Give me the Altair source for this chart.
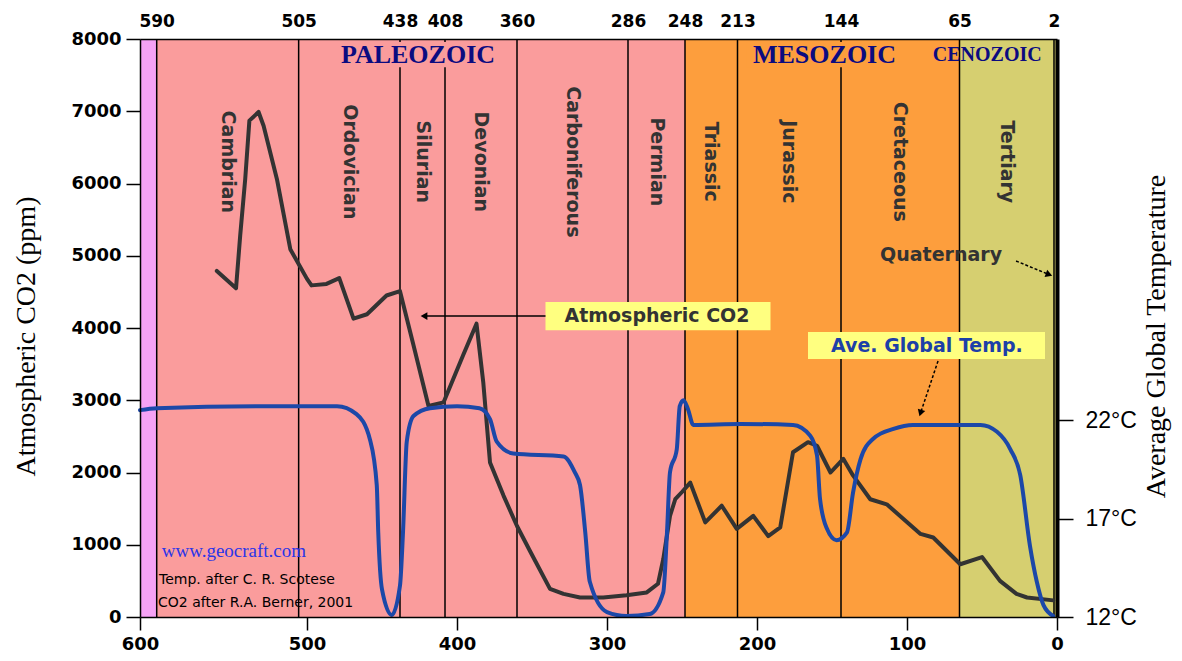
import altair as alt
import pandas as pd

# ---------------- data ----------------
boundary_ma = [590, 505, 438, 408, 360, 286, 248, 213, 144, 65, 2]
period_names = ["Cambrian", "Ordovician", "Silurian", "Devonian", "Carboniferous",
                "Permian", "Triassic", "Jurassic", "Cretaceous", "Tertiary"]
period_label_ppm = 6300

band_names = ["Precambrian", "Paleozoic", "Mesozoic", "Cenozoic"]
band_from = [600, 590, 248, 65]
band_to = [590, 248, 65, 0]
band_colors = ["#F5A2F5", "#FA9C9C", "#FD9E3D", "#D6CF70"]

era_names = ["PALEOZOIC", "MESOZOIC", "CENOZOIC"]
era_label_ma = [426, 155, 46.5]
era_label_ppm = 7780
era_box_band = ["Paleozoic", "Mesozoic"]
era_box_from = [482, 207]
era_box_to = [370, 104]
era_box_lo, era_box_hi = 7610, 7960

co2_ma = [554, 542.5, 540, 537, 534.5, 529, 526, 518, 510, 500, 497, 487, 478.5, 469, 460,
          447, 438, 429, 419, 409, 396, 387, 382.5, 378, 369, 360, 351, 338, 329, 318,
          302.5, 287, 273.5, 266, 262.5, 258, 254.5, 250, 244.5, 234.5, 223.5, 213.5, 202.5,
          192.5, 184.5, 176, 166, 160, 151, 142.5, 136, 124.5, 113.5, 91, 82.5, 64.5, 50,
          38, 27, 20, 2.5]
co2_ppm = [4790, 4550, 5280, 6060, 6870, 6990, 6800, 6060, 5090, 4680, 4590, 4610, 4690, 4130,
           4190, 4450, 4510, 3760, 2920, 2970, 3620, 4060, 3250, 2140, 1680, 1260, 900, 390,
           320, 270, 270, 300, 340, 460, 800, 1400, 1630, 1730, 1860, 1310, 1540, 1220, 1400,
           1120, 1240, 2280, 2420, 2370, 2000, 2190, 1960, 1630, 1560, 1150, 1100, 730, 830,
           500, 320, 270, 230]

temp_ma = [600, 590, 526, 480, 467, 458, 453.5, 452.5, 450, 443.5, 438, 436, 433.5, 429, 418,
           400, 385, 378, 373.5, 362.5, 329, 321.5, 318, 314.5, 311.5, 300, 287, 271.5, 262.5,
           260, 258, 253.5, 251.5, 249, 246, 242.5, 211, 176, 164.5, 160, 158, 153.5, 147,
           140, 136, 131, 122.5, 109, 96, 51, 40, 31, 24.5, 18, 13.5, 9, 2.5]
temp_c = [22.5, 22.6, 22.7, 22.7, 22.3, 21.0, 18.7, 16.3, 13.4, 12.1, 13.6, 16.3, 20.9, 22.2,
          22.6, 22.7, 22.6, 22.05, 20.9, 20.3, 20.15, 19.35, 18.7, 16.3, 13.8, 12.25, 12.05,
          12.15, 13.25, 16.3, 19.35, 20.5, 22.7, 23.0, 22.55, 21.75, 21.8, 21.75, 21.2, 20.2,
          18.0, 16.5, 15.9, 16.3, 18.3, 20.0, 21.05, 21.55, 21.75, 21.75, 21.4, 20.5, 19.2,
          15.6, 13.8, 12.6, 12.05]

callout_text = ["Atmospheric CO2", "Ave. Global Temp.", "Quaternary"]
callout_ma = [266.7, 86.7, 77.3]
callout_ppm = [4166, 3751, 5010]
box_from_ma = [341, 166]
box_to_ma = [191, 8]
box_lo_ppm = [3970, 3570]
box_hi_ppm = [4360, 3945]

arrow_names = ["co2", "temp", "quaternary"]
arrow_from_ma = [341, 79.3, 27.3]
arrow_from_ppm = [4166, 3543, 4927]
arrow_to_ma = [422, 91, 5.3]
arrow_to_ppm = [4166, 2823, 4740]

credit_text = ["www.geocraft.com", "Temp. after C. R. Scotese", "CO2 after R.A. Berner, 2001"]
credit_ma = [587, 588.6, 589.2]
credit_ppm = [913, 512, 194]

x_ticks_bottom = [600, 500, 400, 300, 200, 100, 0]
y_ticks_co2 = [0, 1000, 2000, 3000, 4000, 5000, 6000, 7000, 8000]
y_ticks_temp = [12, 17, 22]

# ---------------- tables ----------------
W, H = 917, 578
bands_df = pd.DataFrame({"band": band_names, "from": band_from, "to": band_to})
rules_df = pd.DataFrame({"ma": boundary_ma})
period_df = pd.DataFrame({
    "name": period_names,
    "ma": [(boundary_ma[i] + boundary_ma[i + 1]) / 2 for i in range(len(period_names))],
    "ppm": [period_label_ppm] * len(period_names),
})
era_df = pd.DataFrame({"name": era_names, "ma": era_label_ma, "ppm": [era_label_ppm] * 3})
era_box_df = pd.DataFrame({"band": era_box_band, "from": era_box_from, "to": era_box_to,
                           "lo": [era_box_lo] * 2, "hi": [era_box_hi] * 2})
co2_df = pd.DataFrame({"ma": co2_ma, "ppm": co2_ppm})
temp_df = pd.DataFrame({"ma": temp_ma, "temp": temp_c})
callout_df = pd.DataFrame({"text": callout_text, "ma": callout_ma, "ppm": callout_ppm})
box_df = pd.DataFrame({"from": box_from_ma, "to": box_to_ma, "lo": box_lo_ppm, "hi": box_hi_ppm})
arrow_df = pd.DataFrame({"name": arrow_names, "from_ma": arrow_from_ma, "from_ppm": arrow_from_ppm,
                         "to_ma": arrow_to_ma, "to_ppm": arrow_to_ppm})
credit_df = pd.DataFrame({"text": credit_text, "ma": credit_ma, "ppm": credit_ppm})

# ---------------- scales ----------------
x_scale = alt.Scale(domain=[600, 500, 0], range=[0, 167, W], nice=False, zero=False)
co2_scale = alt.Scale(domain=[0, 8000], nice=False, zero=False)
temp_scale = alt.Scale(domain=[12, 12 + H / 19.7], nice=False, zero=False)


def X(f):
    return alt.X(f, type="quantitative", scale=x_scale, axis=None)


def Y(f):
    return alt.Y(f, type="quantitative", scale=co2_scale, axis=None)


band_color = alt.Color("band:N", scale=alt.Scale(domain=band_names, range=band_colors), legend=None)

bands = alt.Chart(bands_df).mark_rect().encode(
    x=X("from"), x2="to",
    y=alt.YDatum(0, type="quantitative", scale=co2_scale, axis=None),
    y2=alt.Y2Datum(8000),
    color=band_color,
)

rules = alt.Chart(rules_df).mark_rule(color="black", strokeWidth=1.5).encode(x=X("ma"))

era_boxes = alt.Chart(era_box_df).mark_rect().encode(
    x=X("from"), x2="to", y=Y("lo"), y2="hi", color=band_color)

yellow_boxes = alt.Chart(box_df).mark_rect(color="#FFFF80").encode(
    x=X("from"), x2="to", y=Y("lo"), y2="hi")

bottom_axis = alt.Axis(orient="bottom", values=x_ticks_bottom, format="d", title=None,
                       tickSize=13, tickColor="black", tickWidth=1.5,
                       domainColor="black", domainWidth=1.5, grid=False,
                       labelFont="DejaVu Sans", labelFontWeight="bold", labelFontSize=18,
                       labelColor="black", labelPadding=5, labelFlush=False,
                       labelOverlap=False, zindex=1)
left_axis = alt.Axis(orient="left", values=y_ticks_co2, format="d",
                     tickSize=14, tickColor="black", tickWidth=1.5,
                     domainColor="black", domainWidth=1.5, grid=False,
                     labelFont="DejaVu Sans", labelFontWeight="bold", labelFontSize=18,
                     labelColor="black", labelPadding=5, labelOverlap=False,
                     title="Atmospheric CO2 (ppm)", titleFont="Liberation Serif",
                     titleFontSize=28, titleFontWeight="normal", titleColor="black",
                     titleX=-114, titleY=297, titleAngle=270, titleAlign="center",
                     titleBaseline="middle", zindex=1)

co2_line = alt.Chart(co2_df).mark_line(color="#333333", strokeWidth=4, strokeJoin="round",
                                       strokeCap="round").encode(
    x=alt.X("ma:Q", scale=x_scale, axis=bottom_axis),
    y=alt.Y("ppm:Q", scale=co2_scale, axis=left_axis),
)

period_text = alt.Chart(period_df).mark_text(
    angle=90, font="DejaVu Sans", fontWeight="bold", fontSize=19, color="#333333",
    align="center", baseline="middle").encode(x=X("ma"), y=Y("ppm"), text="name:N")

era_text_big = alt.Chart(era_df).transform_filter("datum.name != 'CENOZOIC'").mark_text(
    font="Liberation Serif", fontWeight="bold", fontSize=26, color="#0B0B80",
    align="center", baseline="middle").encode(x=X("ma"), y=Y("ppm"), text="name:N")
era_text_small = alt.Chart(era_df).transform_filter("datum.name == 'CENOZOIC'").mark_text(
    font="Liberation Serif", fontWeight="bold", fontSize=20, color="#0B0B80",
    align="center", baseline="middle").encode(x=X("ma"), y=Y("ppm"), text="name:N")

callouts = alt.Chart(callout_df).mark_text(
    font="DejaVu Sans", fontWeight="bold", fontSize=19, align="center", baseline="middle").encode(
    x=X("ma"), y=Y("ppm"), text="text:N",
    color=alt.condition("datum.text == 'Ave. Global Temp.'", alt.value("#1C40A8"),
                        alt.value("#333333")),
)

arrow_solid = alt.Chart(arrow_df).transform_filter("datum.name == 'co2'").mark_rule(
    color="black", strokeWidth=1.5).encode(
    x=X("from_ma"), x2="to_ma", y=Y("from_ppm"), y2="to_ppm")
arrow_dashed = alt.Chart(arrow_df).transform_filter("datum.name != 'co2'").mark_rule(
    color="black", strokeWidth=1.5, strokeDash=[3, 2]).encode(
    x=X("from_ma"), x2="to_ma", y=Y("from_ppm"), y2="to_ppm")


def head(name, shape, angle):
    return alt.Chart(arrow_df).transform_filter(f"datum.name == '{name}'").mark_point(
        shape=shape, angle=angle, filled=True, color="black", opacity=1, size=60).encode(
        x=X("to_ma"), y=Y("to_ppm"))


heads = [head("co2", "triangle-left", 0), head("temp", "triangle-down", 18),
         head("quaternary", "triangle-right", 20)]

credit_site = alt.Chart(credit_df).transform_filter("datum.text == 'www.geocraft.com'").mark_text(
    font="Liberation Serif", fontSize=19, color="#2B35E8", align="left", baseline="middle").encode(
    x=X("ma"), y=Y("ppm"), text="text:N")
credit_refs = alt.Chart(credit_df).transform_filter("datum.text != 'www.geocraft.com'").mark_text(
    font="DejaVu Sans", fontSize=14, color="black", align="left", baseline="middle").encode(
    x=X("ma"), y=Y("ppm"), text="text:N")

top_axis = alt.Axis(orient="top", values=boundary_ma, format="d", title=None, ticks=False,
                    domainColor="black", domainWidth=1.5, grid=False,
                    labelFont="DejaVu Sans", labelFontWeight="bold", labelFontSize=17,
                    labelColor="black", labelPadding=9, labelFlush=False,
                    labelOverlap=False, zindex=1)
right_axis = alt.Axis(orient="right", values=y_ticks_temp, labelExpr="datum.value + '°C'",
                      tickSize=16, tickColor="black", tickWidth=1.5,
                      domainColor="black", domainWidth=4, grid=False,
                      labelFont="Liberation Sans", labelFontSize=23, labelFontWeight="normal",
                      labelColor="black", labelPadding=12, labelOverlap=False,
                      title="Average Global Temperature", titleFont="Liberation Serif",
                      titleFontSize=28, titleFontWeight="normal", titleColor="black",
                      titleX=99, titleY=297, titleAngle=270, titleAlign="center",
                      titleBaseline="middle", zindex=1)

temp_line = alt.Chart(temp_df).mark_line(color="#1C48A8", strokeWidth=4, interpolate="monotone",
                                         strokeJoin="round", strokeCap="round").encode(
    x=alt.X("ma:Q", scale=x_scale, axis=top_axis),
    y=alt.Y("temp:Q", scale=temp_scale, axis=right_axis),
)

chart = alt.layer(bands, rules, era_boxes, yellow_boxes, co2_line, period_text,
                  era_text_big, era_text_small, callouts, arrow_solid, arrow_dashed,
                  *heads, credit_site, credit_refs, temp_line).resolve_scale(
    y="independent").resolve_axis(x="independent", y="independent").properties(
    width=W, height=H,
    padding={"left": 132, "top": 31, "right": 117, "bottom": 35},
    autosize=alt.AutoSizeParams(type="none"),
    background="white",
).configure_view(stroke=None)

chart.save("out.html", embed_options={"renderer": "svg", "actions": False})
